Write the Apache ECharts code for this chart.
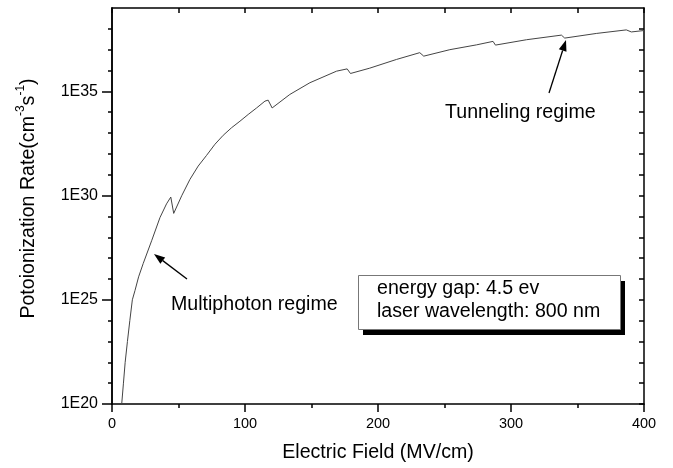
<!DOCTYPE html>
<html>
<head>
<meta charset="utf-8">
<script src="https://cdn.jsdelivr.net/npm/echarts@6/dist/echarts.min.js"></script>
<style>
html, body { margin: 0; padding: 0; background: #fff; }
#chart { width: 673px; height: 468px; }
</style>
</head>
<body>
<div id="chart"></div>
<script>
// electric field (MV/cm) and photoionization rate (cm^-3 s^-1)
var fieldMV = [7.3, 8.6, 9.9, 11.6, 13.4, 15.3, 17.3, 20, 23.5, 29.8, 36.1, 41, 44.2, 46.4, 52.4, 58.6, 64.8, 71.1, 77.4, 83.6, 89.9, 96.2, 102.4, 108.7, 115, 117.4, 120.4,
  133.7, 148.8, 168.8, 176.8, 179.3, 193.8, 213.9, 231.4, 234.4, 254, 274, 286.5, 288.3, 311.6, 337.9, 340.4, 364.1, 386.7, 390.5, 400];
var rate = [1e20, 1e21, 1e22, 1e23, 1e24, 1e25, 2.8e25, 1.26e26, 5.6e26, 6.8e27, 8.9e28, 4e29, 8.5e29, 1.4e29, 9.8e29, 6.0e30, 2.6e31, 8.5e31, 2.9e32, 7.8e32, 1.8e33, 3.7e33, 7.8e33, 1.6e34, 3.4e34, 3.8e34, 1.6e34,
  7.1e34, 2.6e35, 9.3e35, 1.2e36, 7.2e35, 1.3e36, 3.4e36, 7.2e36, 4.9e36, 1e37, 1.7e37, 2.5e37, 1.66e37, 3.0e37, 5e37, 3.6e37, 6e37, 8.9e37, 7.1e37, 8.3e37];

var yLabelValues = [1e20, 1e25, 1e30, 1e35];
var yDecades = [1e20, 1e21, 1e22, 1e23, 1e24, 1e25, 1e26, 1e27, 1e28, 1e29, 1e30, 1e31, 1e32, 1e33, 1e34, 1e35, 1e36, 1e37, 1e38, 1e39];
var infoLines = ['energy gap: 4.5 ev', 'laser wavelength: 800 nm'];

var FONT = 'Liberation Sans, Arial, sans-serif';
function ls() { return { color: '#000', width: 1.5 }; }

var chart = echarts.init(document.getElementById('chart'));

// arrow = line + filled head, points in pixels
function arrow(x1, y1, x2, y2) {
  var a = Math.atan2(y2 - y1, x2 - x1), len = 11, w = 4;
  var bx = x2 - len * Math.cos(a), by = y2 - len * Math.sin(a);
  return [
    { type: 'line', shape: { x1: x1, y1: y1, x2: bx, y2: by }, style: { stroke: '#000', lineWidth: 1.3 } },
    { type: 'polygon', shape: { points: [[x2, y2], [bx + w * Math.sin(a), by - w * Math.cos(a)], [bx - w * Math.sin(a), by + w * Math.cos(a)]] },
      style: { fill: '#000' } }
  ];
}

var option = {
  backgroundColor: '#fff',
  animation: false,
  grid: { left: 112, right: 29, top: 8, bottom: 64 },
  xAxis: [
    {
      type: 'value', min: 0, max: 400, interval: 100, position: 'bottom',
      axisLine: { show: true, onZero: false, lineStyle: ls() },
      axisTick: { show: true, length: 8, lineStyle: ls() },
      minorTick: { show: true, splitNumber: 2, length: 4, lineStyle: ls() },
      axisLabel: { fontSize: 14.5, color: '#000', margin: 12, fontFamily: FONT },
      splitLine: { show: false },
      name: 'Electric Field (MV/cm)', nameLocation: 'middle', nameGap: 39,
      nameTextStyle: { fontSize: 19.6, color: '#000', fontFamily: FONT }
    },
    {
      // mirror axis on top, ticks pointing into the plot
      type: 'value', min: 0, max: 400, interval: 50, position: 'top',
      axisLine: { show: true, onZero: false, lineStyle: ls() },
      axisTick: { show: true, inside: true, length: 5, lineStyle: ls() },
      axisLabel: { show: false },
      splitLine: { show: false }
    }
  ],
  yAxis: [
    {
      type: 'log', logBase: 10, min: 1e20, max: 1e39, position: 'left',
      axisLine: { show: true, onZero: false, lineStyle: ls() },
      axisTick: { show: true, customValues: yLabelValues, length: 10, lineStyle: ls() },
      axisLabel: {
        customValues: yLabelValues, fontSize: 16, color: '#000', margin: 14, fontFamily: FONT,
        formatter: function (v) { return '1E' + Math.round(Math.log10(v)); }
      },
      splitLine: { show: false },
      name: '{a|Potoionization Rate(cm}{s|-3}{a|s}{s|-1}{a|)}',
      nameLocation: 'middle', nameGap: 73, nameRotate: 90,
      nameTextStyle: {
        padding: [0, 0, 0, 15],
        rich: {
          a: { fontSize: 19.6, lineHeight: 22, color: '#000', fontFamily: FONT, verticalAlign: 'bottom' },
          s: { fontSize: 12, lineHeight: 12, color: '#000', fontFamily: FONT, verticalAlign: 'bottom', padding: [0, 0, 12, 0] }
        }
      }
    },
    {
      // decade ticks on the left
      type: 'log', logBase: 10, min: 1e20, max: 1e39, position: 'left',
      axisLine: { show: true, onZero: false, lineStyle: ls() },
      axisTick: { show: true, customValues: yDecades, length: 4, lineStyle: ls() },
      axisLabel: { show: false },
      splitLine: { show: false }
    },
    {
      // mirror axis on the right, ticks pointing into the plot
      type: 'log', logBase: 10, min: 1e20, max: 1e39, position: 'right',
      axisLine: { show: true, onZero: false, lineStyle: ls() },
      axisTick: { show: true, inside: true, customValues: yDecades, length: 5, lineStyle: ls() },
      axisLabel: { show: false },
      splitLine: { show: false }
    }
  ],
  series: [{
    type: 'line',
    xAxisIndex: 0, yAxisIndex: 0,
    data: fieldMV.map(function (x, i) { return [x, rate[i]]; }),
    showSymbol: false,
    lineStyle: { color: '#444', width: 1 },
    clip: true
  }],
  graphic: [
    { type: 'rect', shape: { x: 363, y: 281, width: 262, height: 54 }, style: { fill: '#000' } },
    { type: 'rect', shape: { x: 358.5, y: 275.5, width: 262, height: 54 }, style: { fill: '#fff', stroke: '#777', lineWidth: 1 } },
    { type: 'text', x: 377, y: 289, style: { text: infoLines[0], font: '19.6px ' + FONT, fill: '#000', verticalAlign: 'middle' } },
    { type: 'text', x: 377, y: 312, style: { text: infoLines[1], font: '19.6px ' + FONT, fill: '#000', verticalAlign: 'middle' } },
    { type: 'text', x: 445, y: 113, style: { text: 'Tunneling regime', font: '19.6px ' + FONT, fill: '#000', verticalAlign: 'middle' } },
    { type: 'text', x: 171, y: 305, style: { text: 'Multiphoton regime', font: '19.6px ' + FONT, fill: '#000', verticalAlign: 'middle' } }
  ].concat(arrow(549, 93, 566, 40)).concat(arrow(187, 279, 154, 254))
};

chart.setOption(option);
</script>
</body>
</html>
